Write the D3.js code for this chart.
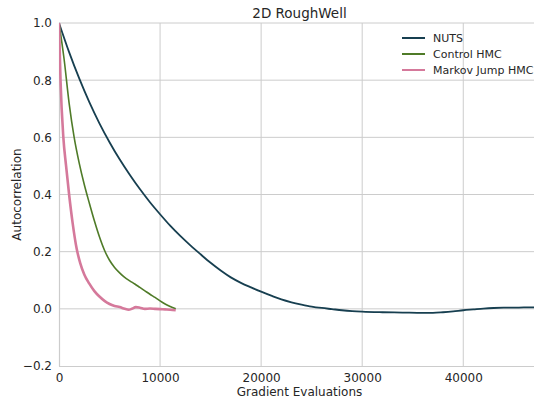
<!DOCTYPE html>
<html><head><meta charset="utf-8">
<script src="https://cdn.jsdelivr.net/npm/d3@7"></script>
<style>body{margin:0;background:#fff}text{font-family:"DejaVu Sans",sans-serif;fill:#262626}</style>
</head><body><svg id="c" width="534" height="398"></svg>
<script>
const title = "2D RoughWell";
const xLabel = "Gradient Evaluations";
const yLabel = "Autocorrelation";
const xTicks = [0, 10000, 20000, 30000, 40000];
const yTicks = [-0.2, 0.0, 0.2, 0.4, 0.6, 0.8, 1.0];
const seriesNames = ["NUTS", "Control HMC", "Markov Jump HMC"];
const seriesColors = ["#173f50", "#4f7b28", "#d5799b"];
const nutsX = [0, 1000, 2000, 3000, 4000, 5000, 6000, 7000, 8000, 9000, 10000, 11000, 12000, 13000, 14000, 15000, 16000, 17000, 18000, 19000, 20000, 21000, 22000, 23000, 24000, 25000, 26000, 27000, 28000, 29000, 30000, 32000, 34000, 36000, 37000, 38000, 39000, 40000, 41000, 42000, 43000, 44000, 45000, 46000, 47000];
const nutsY = [1.0, 0.898, 0.806, 0.723, 0.649, 0.583, 0.523, 0.469, 0.419, 0.373, 0.331, 0.291, 0.255, 0.222, 0.191, 0.161, 0.134, 0.110, 0.091, 0.075, 0.060, 0.046, 0.033, 0.023, 0.015, 0.008, 0.003, -0.001, -0.005, -0.008, -0.010, -0.012, -0.013, -0.014, -0.014, -0.012, -0.009, -0.005, -0.002, 0.001, 0.003, 0.004, 0.004, 0.005, 0.005];
const chmcX = [0, 500, 1000, 1500, 2000, 2500, 3000, 3500, 4000, 4500, 5000, 5500, 6000, 6500, 7000, 7500, 8000, 8500, 9000, 9500, 10000, 10500, 11000, 11550];
const chmcY = [1.0, 0.875, 0.72, 0.6, 0.51, 0.435, 0.37, 0.308, 0.252, 0.205, 0.17, 0.145, 0.126, 0.11, 0.098, 0.087, 0.075, 0.063, 0.051, 0.04, 0.028, 0.017, 0.008, 0.0];
const mjX = [0, 150, 430, 700, 1000, 1350, 1750, 2100, 2500, 3000, 3500, 4000, 4500, 5000, 5500, 6000, 6500, 6900, 7200, 7600, 8000, 8500, 9000, 9500, 10000, 10500, 11000, 11550];
const mjY = [1.0, 0.8, 0.6, 0.5, 0.4, 0.3, 0.21, 0.16, 0.12, 0.088, 0.062, 0.043, 0.028, 0.017, 0.01, 0.006, 0.0, -0.003, 0.0, 0.006, 0.004, 0.0, 0.001, 0.0, -0.001, -0.002, -0.003, -0.005];

const svg = d3.select("#c");
const L = 59, R = 534, T = 23, B = 366;
const x = d3.scaleLinear().domain([0, 47000]).range([L, R]);
const y = d3.scaleLinear().domain([-0.2, 1.0]).range([B, T]);

svg.append("defs").append("clipPath").attr("id","clip").append("rect")
  .attr("x", L).attr("y", T-3).attr("width", R-L).attr("height", B-T+3);

// grid
svg.append("g").selectAll("line").data(xTicks.slice(1)).join("line")
  .attr("x1", d=>x(d)).attr("x2", d=>x(d)).attr("y1", T).attr("y2", B)
  .attr("stroke", "#cccccc").attr("stroke-width", 1);
svg.append("g").selectAll("line").data(yTicks.slice(1)).join("line")
  .attr("x1", L).attr("x2", R).attr("y1", d=>y(d)).attr("y2", d=>y(d))
  .attr("stroke", "#cccccc").attr("stroke-width", 1);
// spines
svg.append("line").attr("x1", L+0.5).attr("x2", L+0.5).attr("y1", T).attr("y2", B+0.5).attr("stroke","#cccccc").attr("stroke-width",1.2);
svg.append("line").attr("x1", L).attr("x2", R).attr("y1", B+0.5).attr("y2", B+0.5).attr("stroke","#cccccc").attr("stroke-width",1.2);

// tick labels via axes
const xAxis = svg.append("g").attr("transform", `translate(0,${B})`)
  .call(d3.axisBottom(x).tickValues(xTicks).tickFormat(d3.format("d")).tickSize(0).tickPadding(7));
xAxis.select(".domain").remove();
const yAxis = svg.append("g").attr("transform", `translate(${L},0)`)
  .call(d3.axisLeft(y).tickValues(yTicks).tickFormat(d => d3.format(".1f")(d).replace("-", "\u2212")).tickSize(0).tickPadding(7));
yAxis.select(".domain").remove();
svg.selectAll(".tick text").attr("font-size", 12).attr("font-family", "DejaVu Sans").attr("fill", "#262626");

// lines
const line = d3.line().x(d=>x(d[0])).y(d=>y(d[1])).curve(d3.curveMonotoneX);
const data = [d3.zip(nutsX, nutsY), d3.zip(chmcX, chmcY), d3.zip(mjX, mjY)];
const widths = [1.8, 1.6, 2.6];
const g = svg.append("g").attr("clip-path", "url(#clip)");
data.forEach((d, i) => {
  g.append("path").datum(d).attr("d", line).attr("fill", "none")
    .attr("stroke", seriesColors[i]).attr("stroke-width", widths[i]).attr("stroke-linejoin","round");
});

// title & labels
svg.append("text").attr("x", (L+R)/2 + 3).attr("y", 18).attr("text-anchor","middle").attr("font-size", 13.5).text(title);
svg.append("text").attr("x", (L+R)/2 + 3).attr("y", 396).attr("text-anchor","middle").attr("font-size", 12).text(xLabel);
svg.append("text").attr("transform", `translate(21,${(T+B)/2}) rotate(-90)`).attr("text-anchor","middle").attr("font-size", 12).text(yLabel);

// legend
const lg = svg.append("g");
seriesNames.forEach((n, i) => {
  const yy = 38 + i*16;
  lg.append("line").attr("x1", 402).attr("x2", 425).attr("y1", yy).attr("y2", yy)
    .attr("stroke", seriesColors[i]).attr("stroke-width", 2);
  lg.append("text").attr("x", 433).attr("y", yy + 4).attr("font-size", 11).text(n);
});
</script></body></html>
